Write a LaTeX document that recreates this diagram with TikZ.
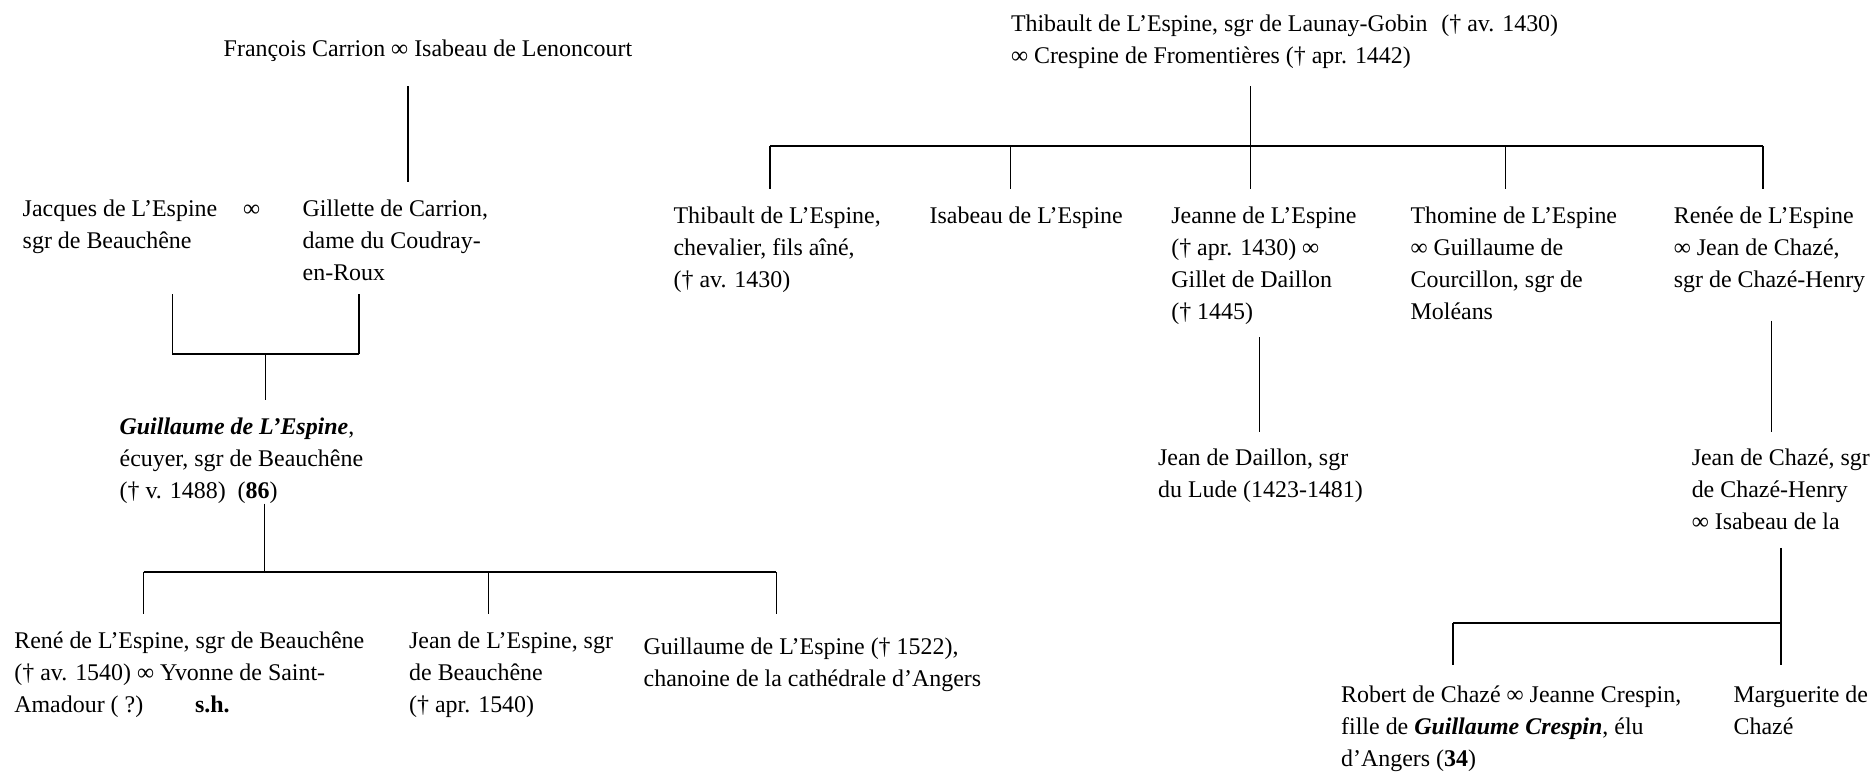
\documentclass[tikz,border=0pt]{standalone}
\usepackage{fontspec}
\setmainfont{Liberation Serif}
\newcommand{\mylines}[1]{\begin{tabular}[t]{@{}l@{}}#1\end{tabular}}
\tikzset{
  person/.style={anchor=base west, inner sep=0pt, outer sep=0pt, font=\fontsize{12}{16}\selectfont},
  vline/.style={line width=0.6pt},
  hline/.style={line width=1pt},
}
\begin{document}
\begin{tikzpicture}[x=0.6pt,y=-0.6pt]
\useasboundingbox (0,0) rectangle (1568,651);

% ---------- left tree ----------
\node[person] (fc) at (187,47.5) {François Carrion ∞ Isabeau de Lenoncourt};
\node[person] (jacques) at (19,181) {\mylines{Jacques de L’Espine\hspace{13pt}∞\\ sgr de Beauchêne}};
\node[person] (gillette) at (253,181) {\mylines{Gillette de Carrion,\\dame du Coudray-\\en-Roux}};
\node[person] (guill) at (100,363) {\mylines{\textbf{\textit{Guillaume de L’Espine}},\\écuyer, sgr de Beauchêne\\(† v. 1488)\hspace{6pt}(\textbf{86})}};
\node[person] (rene) at (12,542) {\mylines{René de L’Espine, sgr de Beauchêne\\(† av. 1540) ∞ Yvonne de Saint-\\Amadour ( ?)\hspace{26pt}\textbf{s.h.}}};
\node[person] (jean) at (342,542) {\mylines{Jean de L’Espine, sgr\\de Beauchêne\\(† apr. 1540)}};
\node[person] (chanoine) at (538,547) {\mylines{Guillaume de L’Espine († 1522),\\chanoine de la cathédrale d’Angers}};

\coordinate (fc-a) at (341,72);
\coordinate (fc-b) at (341,152);
\coordinate (jq-a) at (144,246);
\coordinate (jq-b) at (144,296);
\coordinate (gi-a) at (300,246);
\coordinate (gi-b) at (300,296);
\coordinate (m1) at (222,296);
\coordinate (m1-b) at (222,334);
\draw[vline] (fc-a) -- (fc-b);
\draw[vline] (jq-a) -- (jq-b);
\draw[vline] (gi-a) -- (gi-b);
\draw[hline] (jq-b) -- (gi-b);
\draw[vline] (m1) -- (m1-b);

\coordinate (gu-a) at (221,421);
\coordinate (gu-b) at (221,478);
\coordinate (re-t) at (120,478);
\coordinate (re-b) at (120,513);
\coordinate (je-t) at (408,478);
\coordinate (je-b) at (408,513);
\coordinate (ch-t) at (649,478);
\coordinate (ch-b) at (649,513);
\draw[vline] (gu-a) -- (gu-b);
\draw[hline] (re-t) -- (ch-t);
\draw[vline] (re-t) -- (re-b);
\draw[vline] (je-t) -- (je-b);
\draw[vline] (ch-t) -- (ch-b);

% ---------- right tree ----------
\node[person] (thib) at (845,26) {\mylines{Thibault de L’Espine, sgr de Launay-Gobin\hspace{7pt}(† av. 1430)\\∞ Crespine de Fromentières († apr. 1442)}};
\node[person] (thibj) at (563,187) {\mylines{Thibault de L’Espine,\\chevalier, fils aîné,\\(† av. 1430)}};
\node[person] (isab) at (777,187) {Isabeau de L’Espine};
\node[person] (jeanne) at (979,187) {\mylines{Jeanne de L’Espine\\(† apr. 1430) ∞\\Gillet de Daillon\\(† 1445)}};
\node[person] (thom) at (1179,187) {\mylines{Thomine de L’Espine\\∞ Guillaume de\\Courcillon, sgr de\\Moléans}};
\node[person] (renee) at (1399,187) {\mylines{Renée de L’Espine\\∞ Jean de Chazé,\\sgr de Chazé-Henry}};
\node[person] (daillon) at (968,389) {\mylines{Jean de Daillon, sgr\\du Lude (1423-1481)}};
\node[person] (chaze) at (1414,389) {\mylines{Jean de Chazé, sgr\\de Chazé-Henry\\∞ Isabeau de la}};
\node[person] (robert) at (1121,587) {\mylines{Robert de Chazé ∞ Jeanne Crespin,\\fille de \textbf{\textit{Guillaume Crespin}}, élu\\d’Angers (\textbf{34})}};
\node[person] (marg) at (1449,587) {\mylines{Marguerite de\\Chazé}};

\coordinate (th-a) at (1045.5,72);
\coordinate (th-b) at (1045.5,122);
\coordinate (c1-t) at (643.5,122);
\coordinate (c1-b) at (643.5,158);
\coordinate (c2-t) at (844.5,122);
\coordinate (c2-b) at (844.5,158);
\coordinate (c3-b) at (1045.5,158);
\coordinate (c4-t) at (1258,122);
\coordinate (c4-b) at (1258,158);
\coordinate (c5-t) at (1473.5,122);
\coordinate (c5-b) at (1473.5,158);
\draw[vline] (th-a) -- (c3-b);
\draw[hline] (c1-t) -- (c5-t);
\draw[vline] (c1-t) -- (c1-b);
\draw[vline] (c2-t) -- (c2-b);
\draw[vline] (c4-t) -- (c4-b);
\draw[vline] (c5-t) -- (c5-b);

\coordinate (jn-a) at (1053,282);
\coordinate (jn-b) at (1053,361);
\draw[vline] (jn-a) -- (jn-b);
\coordinate (rn-a) at (1480.5,268);
\coordinate (rn-b) at (1480.5,361);
\draw[vline] (rn-a) -- (rn-b);

\coordinate (jc-a) at (1488.5,458);
\coordinate (jc-m) at (1488.5,520.5);
\coordinate (jc-b) at (1488.5,556);
\coordinate (rb-t) at (1214.5,520.5);
\coordinate (rb-b) at (1214.5,556);
\draw[vline] (jc-a) -- (jc-b);
\draw[hline] (rb-t) -- (jc-m);
\draw[vline] (rb-t) -- (rb-b);
\end{tikzpicture}
\end{document}
